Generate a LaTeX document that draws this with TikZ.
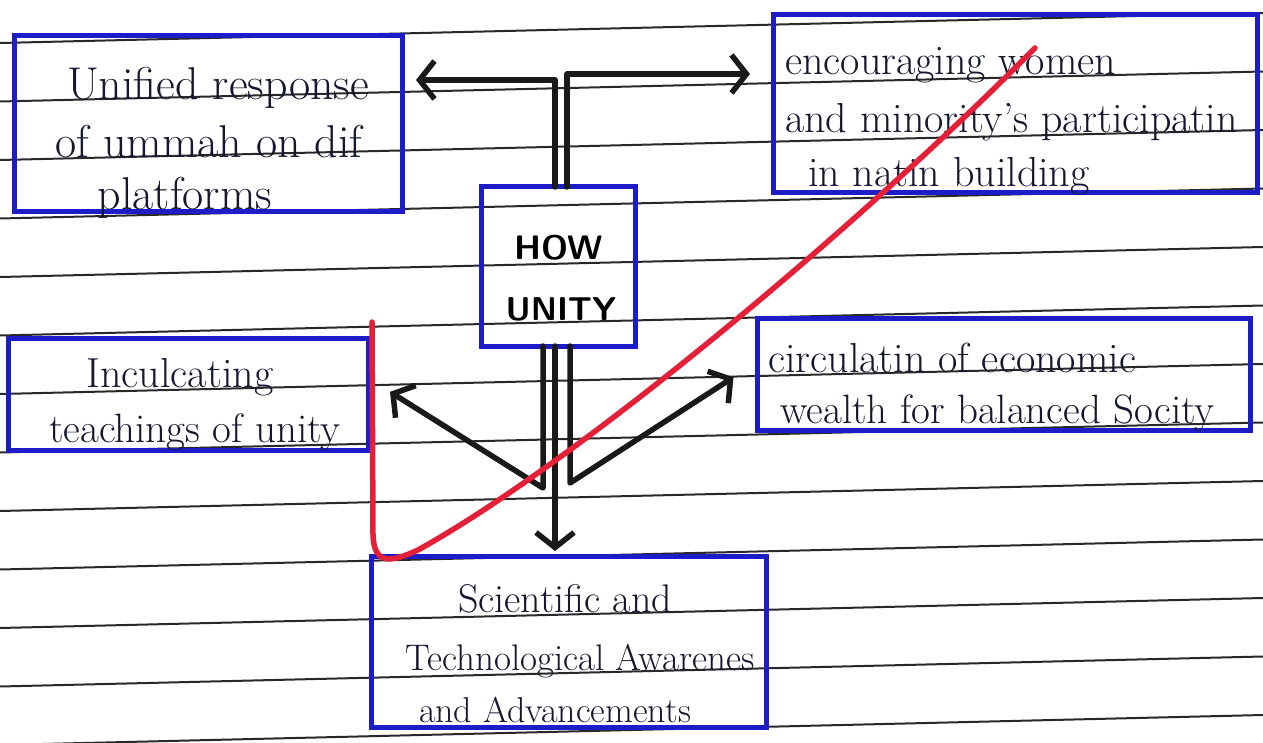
\documentclass[tikz,border=0pt]{standalone}
\usetikzlibrary{arrows.meta}
\definecolor{boxblue}{RGB}{28,28,200}
\definecolor{ink}{RGB}{22,22,48}
\definecolor{redpen}{RGB}{228,32,56}
\definecolor{rulegray}{RGB}{40,40,40}
\begin{document}
\begin{tikzpicture}[x=1pt,y=-1pt,
  ruleline/.style={draw=rulegray, line width=2pt},
  box/.style={draw=boxblue, line width=5pt, inner sep=0pt, outer sep=0pt},
  arr/.style={draw=black!90, line width=5.5pt, line cap=round, line join=round,
              -{Straight Barb[length=15pt,width=38pt]}},
  txt/.style={anchor=base, inner sep=0pt, text=ink},
  hw/.style={txt, font=\fontsize{#1}{#1}\selectfont},
  hwl/.style={hw=#1, anchor=base west},
  heavy/.style={txt, text=black, font=\fontsize{#1}{#1}\selectfont\sffamily\bfseries}
]
\useasboundingbox[fill=white] (0,0) rectangle (1263,743);

% ruled paper
\foreach \k in {0,...,12}
  \draw[ruleline] (0,{43+58.5*\k}) -- (1263,{13+58.5*\k});

% boxes
\node[box, minimum width=388pt, minimum height=176pt] (b1) at (208,124) {};
\node[box, minimum width=484pt, minimum height=178pt] (b2) at (1015,104) {};
\node[box, minimum width=154pt, minimum height=159pt] (cbox) at (558,266.5) {};
\node[box, minimum width=360pt, minimum height=112pt] (b4) at (188,394) {};
\node[box, minimum width=493pt, minimum height=112pt] (b5) at (1003.5,374) {};
\node[box, minimum width=395pt, minimum height=171pt] (b6) at (568.5,641.5) {};

% connectors
\coordinate (tl) at (0,80);
\coordinate (tr) at (0,74);
\draw[arr, shorten >=14pt] ([xshift=-3pt]cbox.north) |- (b1.east |- tl);
\draw[arr, shorten >=23pt] ([xshift=9pt]cbox.north) |- (b2.west |- tr);
\draw[arr, shorten >=5pt] ([xshift=-3pt]cbox.south) -- ([xshift=-3pt]cbox.south |- b6.north);
\draw[arr, shorten >=26pt] ([xshift=-15pt]cbox.south) -- ++(0,142) -- (b4.east |- 0,378);
\draw[arr, shorten >=28pt] ([xshift=12pt]cbox.south) -- ++(0,137) -- (b5.west |- 0,362);

% texts
\node[hw=46pt] (t11) at (218,100) {Unified response};
\node[hw=46pt] (t12) at (209,158) {of ummah on dif};
\node[hw=46pt] (t13) at (185,210) {platforms};

\node[hwl=42pt] (t21) at (785,75) {encouraging women};
\node[hwl=42pt] (t22) at (785,133) {and minority's participatin};
\node[hwl=42pt] (t23) at (808,187) {in natin building};

\node[heavy=34pt] (c1) at (559,260) {HOW};
\node[heavy=33pt] (c2) at (561,320) {UNITY};

\node[hw=42pt] (t41) at (180,387) {Inculcating};
\node[hw=41pt] (t42) at (195,442) {teachings of unity};

\node[hwl=42pt] (t51) at (768,372) {circulatin of economic};
\node[hwl=41pt] (t52) at (780,423) {wealth for balanced Socity};

\node[hw=40pt] (t61) at (565,612) {Scientific and};
\node[hw=37pt] (t62) at (580,670) {Technological Awarenes};
\node[hw=36pt] (t63) at (555,722) {and Advancements};

% red pen strike
\draw[redpen, line width=5.5pt, line cap=round, line join=round]
  (372,322) -- (373,535) .. controls (374,566) and (392,562) .. (418,550)
  .. controls (580,460) and (860,225) .. (1035,48);
\end{tikzpicture}
\end{document}
